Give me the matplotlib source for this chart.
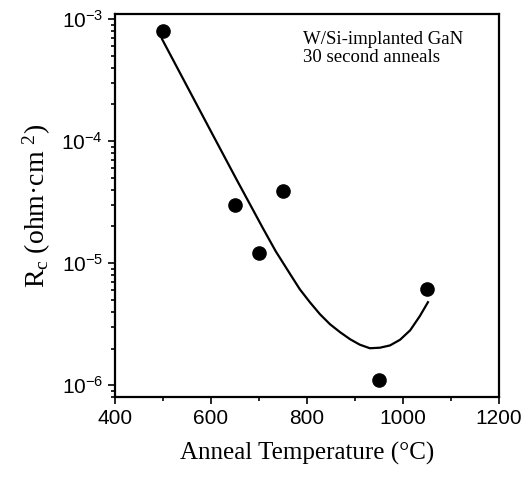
import math
import matplotlib
matplotlib.use("Agg")
import matplotlib.pyplot as plt
from matplotlib.ticker import MultipleLocator, LogLocator, FuncFormatter

# measured contact resistance
temps = [500, 650, 700, 750, 950, 1050]
rc = [8.0e-4, 3.0e-5, 1.2e-5, 3.9e-5, 1.1e-6, 6.2e-6]

# fit curve
fit_t = [498, 550, 602, 654, 681, 708, 735, 765, 785, 806, 827, 848, 869, 890,
         910, 931, 952, 973, 994, 1015, 1035, 1052]
fit_rc = [6.86e-4, 2.82e-4, 1.16e-4, 4.79e-5, 3.05e-5, 1.94e-5, 1.25e-5, 8.13e-6,
          6.12e-6, 4.79e-6, 3.82e-6, 3.16e-6, 2.72e-6, 2.38e-6, 2.15e-6, 2.01e-6,
          2.03e-6, 2.12e-6, 2.36e-6, 2.82e-6, 3.68e-6, 4.79e-6]

plt.rcParams['font.family'] = ['Liberation Sans', 'DejaVu Sans']

fig = plt.figure(figsize=(5.32, 4.79), dpi=100)
ax = fig.add_axes([0.216, 0.171, 0.722, 0.8])

ax.plot(fit_t, fit_rc, color='black', lw=1.6, solid_joinstyle='round')
ax.plot(temps, rc, 'o', color='black', ms=9.5)

ax.set_yscale('log')
ax.set_xlim(400, 1200)
ax.set_ylim(8e-7, 1.1e-3)

ax.xaxis.set_major_locator(MultipleLocator(200))
ax.xaxis.set_minor_locator(MultipleLocator(100))
ax.yaxis.set_major_locator(LogLocator(base=10, numticks=10))
ax.yaxis.set_minor_locator(LogLocator(base=10, subs=range(2, 10), numticks=10))
ax.yaxis.set_major_formatter(FuncFormatter(
    lambda v, p: r'$\mathregular{10^{%d}}$' % round(math.log10(v))))

ax.tick_params(which='both', direction='out', labelsize=15, width=1.2)
ax.tick_params(which='major', length=5)
ax.tick_params(which='minor', length=3)
for s in ax.spines.values():
    s.set_linewidth(1.6)

ax.set_xlabel('Anneal Temperature (°C)', family='Liberation Serif', fontsize=18, labelpad=10)
ax.set_ylabel(r'$\mathregular{R_c}$ (ohm·cm $\mathregular{^{2}}$)', family='Liberation Serif',
              fontsize=20, labelpad=6)

ax.text(0.49, 0.955, 'W/Si-implanted GaN\n30 second anneals', transform=ax.transAxes,
        family='Liberation Serif', fontsize=13.5, va='top', ha='left', linespacing=1.1)

fig.savefig('out.png', dpi=100)
